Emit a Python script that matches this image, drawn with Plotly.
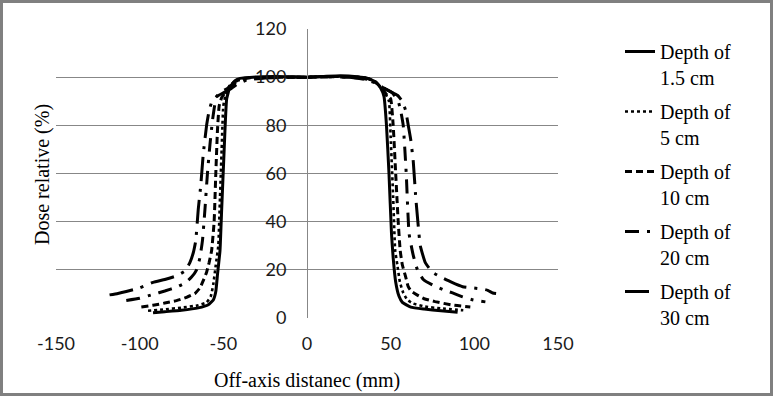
import plotly.graph_objects as go

# ---------------- data ----------------
names = ["Depth of<br>1.5 cm", "Depth of<br>5 cm", "Depth of<br>10 cm",
         "Depth of<br>20 cm", "Depth of<br>30 cm"]

x_15 = [-92, -85, -75, -65, -59, -56, -54.5, -53.5, -52, -51, -49.5, -48, -46, -43, -40,
        -30, -20, -10, 0, 10, 20, 30, 36, 41, 44, 46, 47.5, 49, 50.5, 51.5, 53, 55, 57,
        62, 70, 80, 90]
y_15 = [2.2, 2.6, 3.2, 4.2, 5.5, 7.5, 11, 18, 28, 45, 70, 91, 96, 98.5, 99.5,
        100.1, 100.3, 100.2, 100, 100.3, 100.6, 100.2, 99.6, 98, 95.5, 92, 80, 60, 35, 25, 15, 9, 6.5,
        4.5, 3.7, 3.0, 2.4]

x_5 = [-95, -85, -75, -65, -60, -57.5, -56, -54.5, -53, -52, -51, -50, -48.5, -46, -42,
       -35, -20, 0, 20, 35, 41, 45, 47, 49, 50, 51.5, 52.7, 54, 55.5, 57.5, 60, 63.5,
       70, 80, 93.4]
y_5 = [3.0, 3.6, 4.3, 5.3, 6.5, 9, 14, 22, 30, 50, 70, 88, 93, 96.5, 98.8,
       99.8, 100.1, 100, 100.4, 99.8, 98, 95, 93, 90, 75, 50, 28, 22, 15, 10.5, 7.5, 6,
       4.8, 4.0, 3.2]

x_10 = [-99, -92, -85, -78, -72, -67, -64, -62, -60, -58.5, -57, -55.5, -54.5, -53.5, -52.5,
        -51, -49, -46, -42, -35, -20, 0, 20, 35, 41, 45, 48, 50, 51.5, 53, 54.5, 55.7,
        57, 59, 60.5, 62.5, 65.7, 70, 76.6, 86.8, 97.6]
y_10 = [4.6, 5.3, 6.2, 7.2, 8.6, 10.2, 12.5, 15.5, 19, 23, 28, 40, 60, 78, 88,
        91.5, 93.5, 96.5, 98.5, 99.7, 100, 100, 100.3, 99.7, 98, 95, 92.5, 91, 80, 60, 40, 28,
        22, 17, 13, 11, 9.6, 8, 6.8, 5.4, 4.6]

x_20 = [-108, -100, -92, -85, -78, -73, -69, -66, -64, -62.5, -61, -59.5, -58, -56.5, -55,
        -53.5, -51, -47, -43, -38, -30, -15, 0, 15, 30, 38, 43, 47, 51, 54.5, 56, 57.5,
        59.3, 61, 63.5, 66, 69.5, 75, 81.5, 87, 93, 99.4, 106.6]
y_20 = [7.3, 8.2, 9.8, 11.2, 12.8, 14.5, 17, 20, 25, 32, 45, 60, 72, 82, 89,
        92.5, 94, 95.5, 97.5, 99, 99.8, 100, 100, 100.2, 99.8, 98.8, 97, 95, 93.5, 90, 86, 80,
        60, 35, 26, 20, 16, 13.7, 11.7, 10.4, 8.8, 7.5, 6.7]

x_30 = [-118, -113, -108, -100, -92, -85, -78, -73, -70, -68, -66.5, -65, -63.5, -62, -60,
        -58.5, -57, -54, -50, -46, -42, -36, -25, -10, 0, 10, 25, 35, 41, 46, 50, 54, 57,
        59, 60.5, 62, 63.5, 65, 66.5, 67.7, 70.7, 75, 80, 86, 93, 99, 105, 108, 111, 113]
y_30 = [9.6, 10.2, 11, 12.5, 14.8, 16, 17.5, 19.5, 23, 27, 32, 45, 55, 68, 80,
        86, 89.5, 92, 93.5, 95, 97, 98.8, 99.7, 100, 100, 100.2, 100, 99, 97.5, 95.5, 94, 92.5, 90,
        86, 80, 74, 65, 50, 38, 30, 23, 19, 17, 15, 13, 12.5, 12, 11.5, 10.4, 10.2]

xs = [x_15, x_5, x_10, x_20, x_30]
ys = [y_15, y_5, y_10, y_20, y_30]
dashes = ["solid", "3px,3px", "7px,4px", "14px,8px,3px,8px", "24px,8px,3px,8px"]
widths = [3, 2.6, 3, 3, 3]

x_ticks = [-150, -100, -50, 0, 50, 100, 150]
x_ticktext = ["-150", "-100", "-50", "0", "50", "100", "150"]
y_ticks = [0, 20, 40, 60, 80, 100, 120]

# ---------------- figure ----------------
W, H = 773, 396
L, R, T, B = 56, 215, 29, 10
pw, ph = W - L - R, H - T - B          # paper area in px
plot_bottom = 318                      # pixel row of y = 0


def px_x(px):
    return (px - L) / pw


def px_y(py):
    return (H - B - py) / ph


fig = go.Figure()
for i in range(5):
    fig.add_trace(go.Scatter(
        x=xs[i], y=ys[i], mode="lines", name=names[i], legendgroup=str(i),
        line=dict(color="black", width=widths[i], dash=dashes[i], shape="spline", smoothing=0.4),
    ))

serif = "Liberation Serif, Times New Roman, serif"
sans = "Lato, Liberation Sans, sans-serif"
grid = "#878787"

fig.update_layout(
    width=W, height=H,
    margin=dict(l=L, r=R, t=T, b=B, autoexpand=False),
    paper_bgcolor="white", plot_bgcolor="white",
    showlegend=True,
    legend=dict(x=px_x(620), xanchor="left", y=px_y(32), yanchor="top",
                font=dict(family=serif, size=20, color="black"),
                valign="top", tracegroupgap=5, bgcolor="rgba(0,0,0,0)"),
    xaxis=dict(range=[-150, 150], tickvals=x_ticks, ticktext=x_ticktext, showgrid=False,
               zeroline=False, showline=False, ticks="", ticklabelstandoff=13,
               tickfont=dict(family=sans, size=18, color="#1a1a1a")),
    yaxis=dict(range=[0, 120], tickvals=y_ticks, showgrid=True, gridcolor=grid, gridwidth=1,
               domain=[px_y(plot_bottom), 1],
               zeroline=False, anchor="free", position=0.5, showline=True, linecolor=grid,
               linewidth=1, ticks="", ticklabelstandoff=17,
               tickfont=dict(family=sans, size=18, color="#1a1a1a")),
    annotations=[
        dict(text="Off-axis distanec (mm)", xref="paper", yref="paper",
             x=px_x(307), y=px_y(380), xanchor="center", yanchor="middle",
             showarrow=False, font=dict(family=serif, size=20, color="black")),
        dict(text="Dose relative (%)", xref="paper", yref="paper", textangle=-90,
             x=px_x(42), y=px_y(175), xanchor="center", yanchor="middle",
             showarrow=False, font=dict(family=serif, size=20, color="black")),
    ],
    shapes=[dict(type="rect", xref="paper", yref="paper",
                 x0=px_x(1.5), x1=px_x(771.5), y0=px_y(394.5), y1=px_y(1.5),
                 line=dict(color="#808080", width=3), layer="above")],
)

fig.write_html("out.html", post_script="document.body.style.margin='0';",
               config={"displayModeBar": False})
